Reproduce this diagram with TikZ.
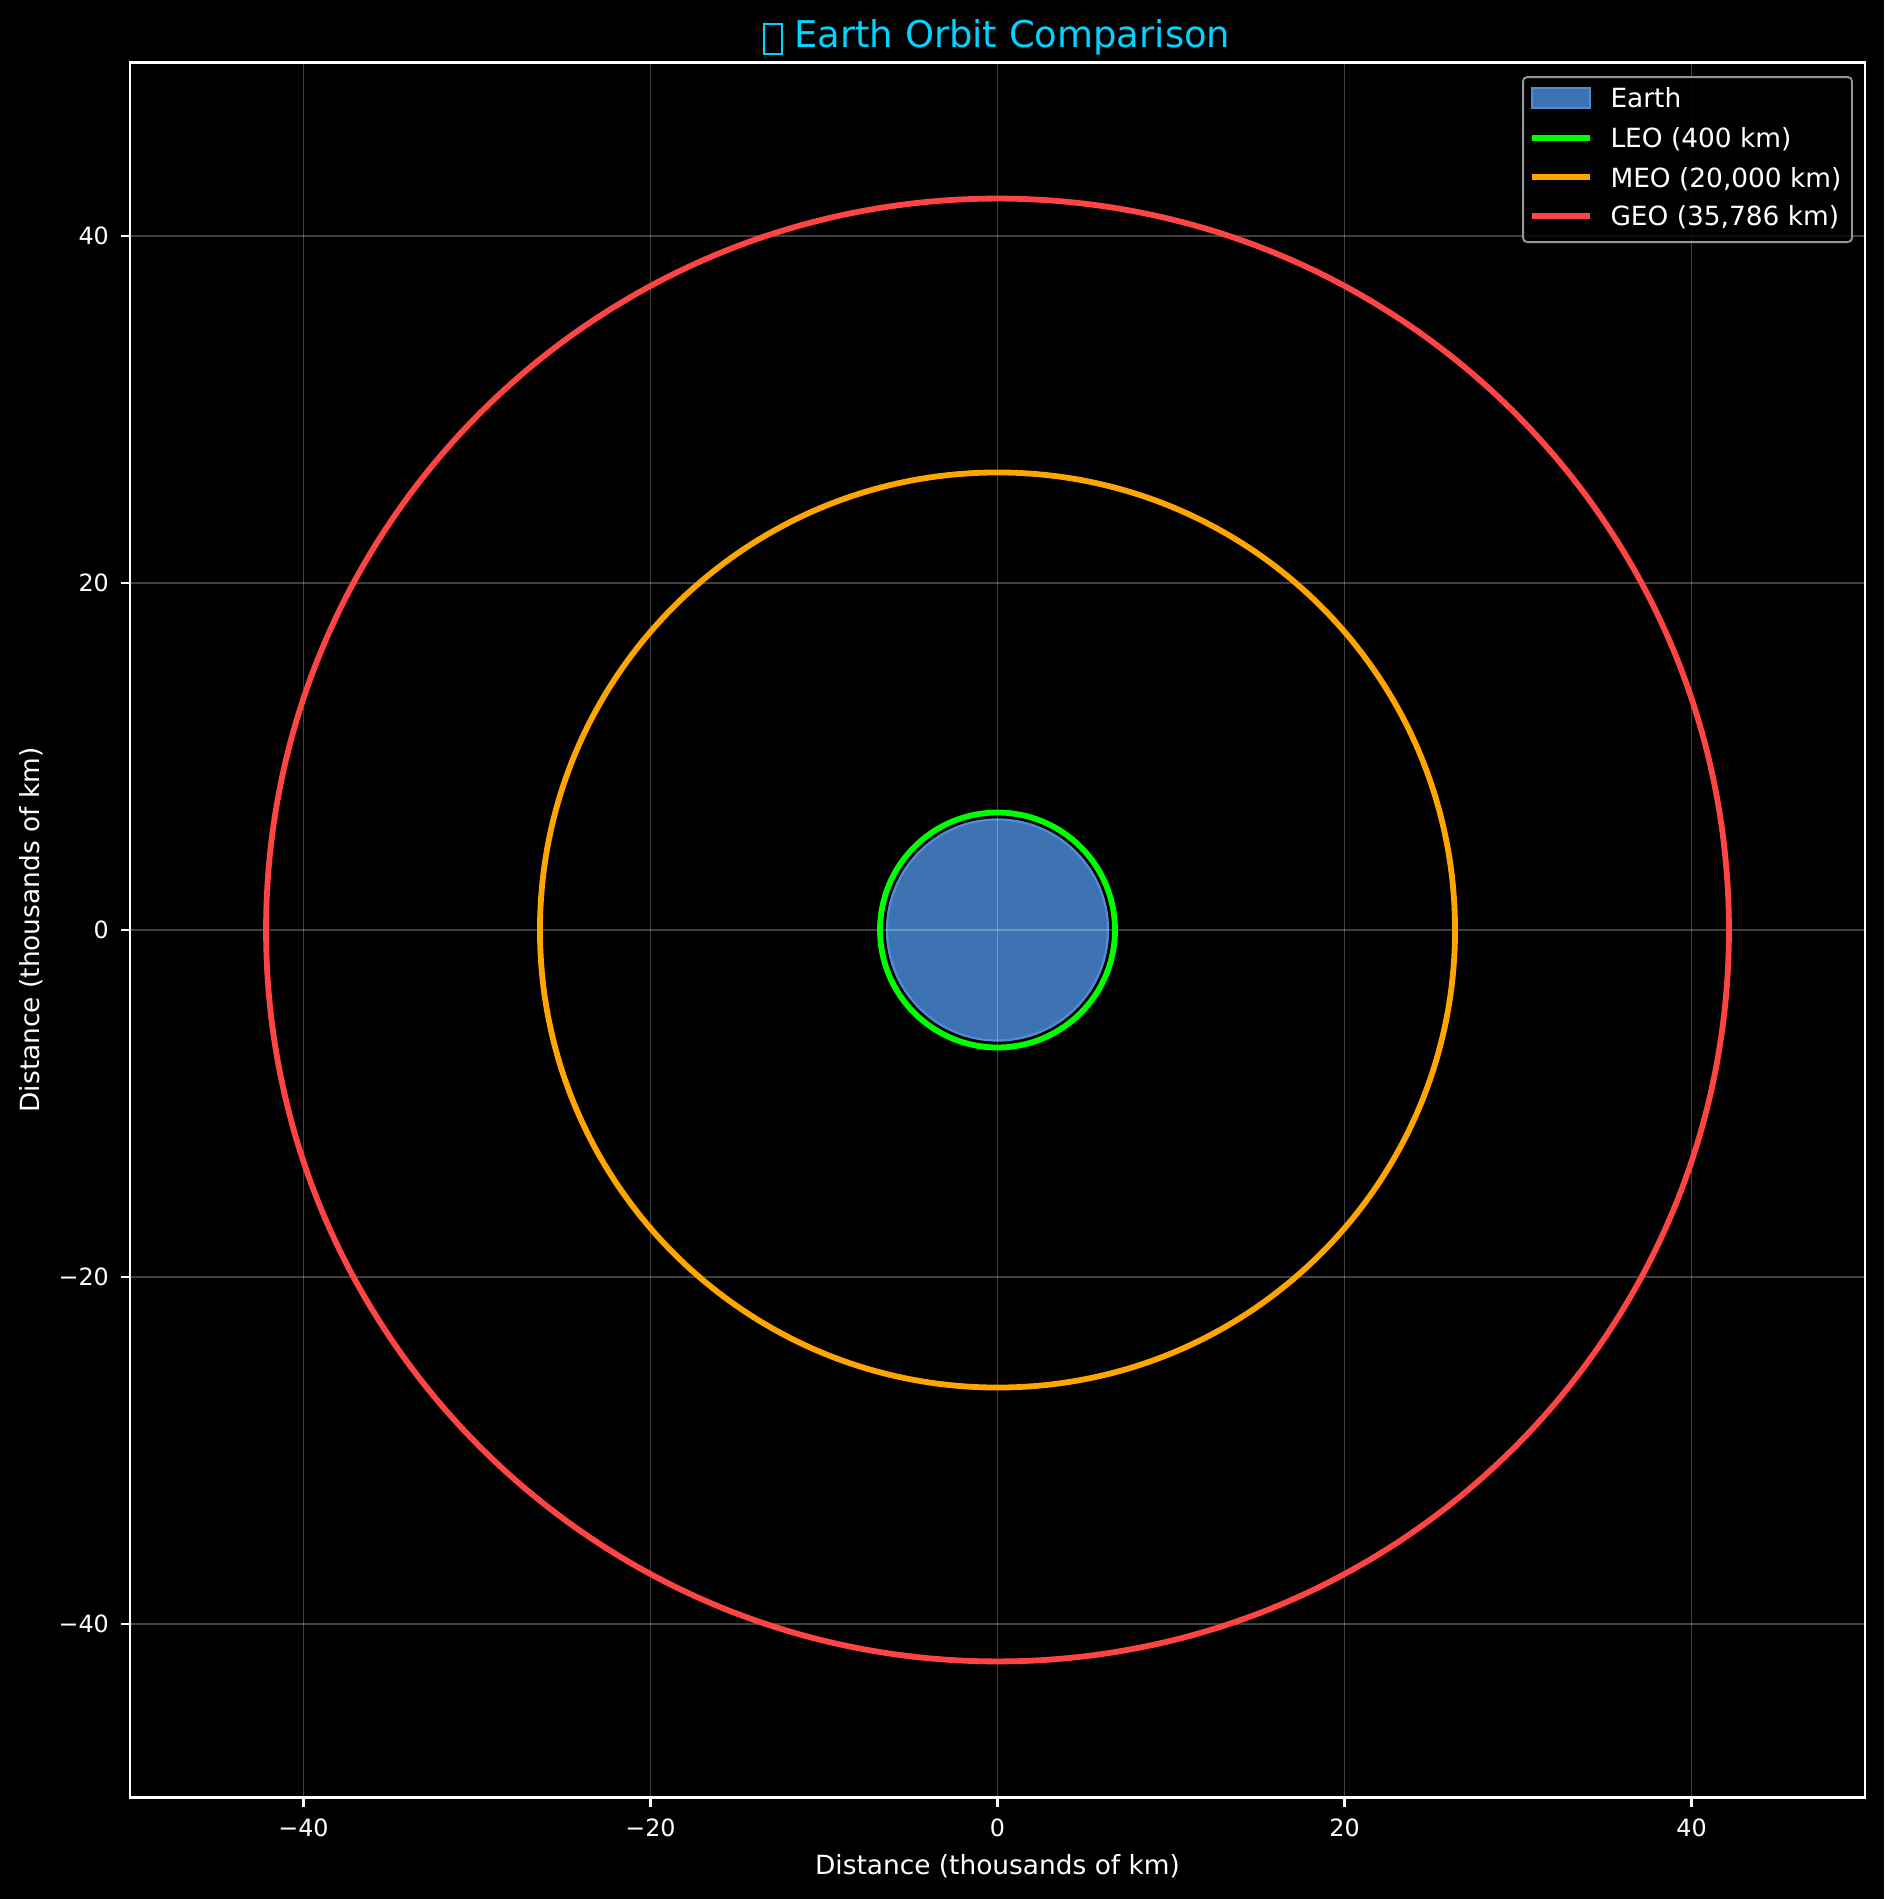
\documentclass[tikz,border=0pt]{standalone}
\usepackage{fontspec}
\setmainfont{DejaVu Sans}

\definecolor{earthblue}{RGB}{61,115,178}
\definecolor{earthedge}{RGB}{82,140,210}
\definecolor{leogreen}{RGB}{0,255,0}
\definecolor{meoorange}{RGB}{255,165,0}
\definecolor{geored}{RGB}{255,68,68}
\definecolor{titlecyan}{RGB}{0,212,255}
\definecolor{legendedge}{RGB}{150,150,150}

% the glyph the title font could not show
\newcommand{\tofubox}{\raisebox{-2.0pt}{\setlength{\fboxsep}{0pt}\setlength{\fboxrule}{0.6pt}\fbox{\rule{0pt}{10.2pt}\rule{5.77pt}{0pt}}}}

\begin{document}
\begin{tikzpicture}[x=0.220345cm, y=0.220345cm,
  orbit/.style={line width=2.1pt},
  gridline/.style={white, opacity=0.25, line width=0.7pt},
  spine/.style={white, line width=0.75pt},
  ticklabel/.style={white, inner sep=0pt, font=\fontsize{8.6}{10}\selectfont},
  axislabel/.style={white, inner sep=0pt, anchor=base, font=\fontsize{9.54}{11}\selectfont},
  legendtext/.style={white, inner sep=0pt, anchor=base west, font=\fontsize{9.54}{11}\selectfont}]
  \fill[black] (-57.493,-55.850) rectangle (51.095,53.602);
  \useasboundingbox (-57.493,-55.850) rectangle (51.095,53.602);

  % earth, grid, orbits
  \draw[fill=earthblue, draw=earthedge, line width=0.8pt] (0,0) circle (6.371);
  \foreach \v in {-40,-20,...,40} {
    \draw[gridline] (\v,-50) -- (\v,50);
    \draw[gridline] (-50,\v) -- (50,\v);
  };
  \draw[orbit, leogreen] (0,0) circle (6.771);
  \draw[orbit, meoorange] (0,0) circle (26.371);
  \draw[orbit, geored] (0,0) circle (42.157);

  % frame and ticks
  \draw[spine] (-50,-50) rectangle (50,50);
  \foreach \v/\t in {-40/−40,-20/−20,0/0,20/20,40/40} {
    \draw[spine] (\v,-50) -- (\v,-50.53);
    \draw[spine] (-50,\v) -- (-50.53,\v);
    \node[ticklabel, anchor=north] (xt\v) at (\v,-51.22) {\t};
    \node[ticklabel, anchor=east] (yt\v) at (-51.19,\v) {\t};
  };
  \node[axislabel] (xlabel) at (0,-54.45) {Distance (thousands of km)};
  \node[axislabel, rotate=90] (ylabel) at (-55.23,0) {Distance (thousands of km)};

  % title
  \node[titlecyan, inner sep=0pt, anchor=base west, font=\fontsize{13.34}{15}\selectfont]
    (title) at (-13.53,50.85) {\tofubox{} Earth Orbit Comparison};

  % legend
  \draw[legendedge, fill=black, fill opacity=0.8, rounded corners=1.5pt, line width=0.7pt]
    (30.29,39.65) rectangle (49.25,49.16);
  \draw[earthedge, fill=earthblue, line width=0.8pt] (30.81,47.38) rectangle (34.15,48.53);
  \draw[orbit, leogreen] (30.81,45.67) -- (34.15,45.67);
  \draw[orbit, meoorange] (30.81,43.38) -- (34.15,43.38);
  \draw[orbit, geored] (30.81,41.15) -- (34.15,41.15);
  \node[legendtext] (legearth) at (35.30,47.39) {Earth};
  \node[legendtext] (legleo) at (35.30,45.11) {LEO (400 km)};
  \node[legendtext] (legmeo) at (35.30,42.81) {MEO (20,000 km)};
  \node[legendtext] (leggeo) at (35.30,40.58) {GEO (35,786 km)};
\end{tikzpicture}
\end{document}
